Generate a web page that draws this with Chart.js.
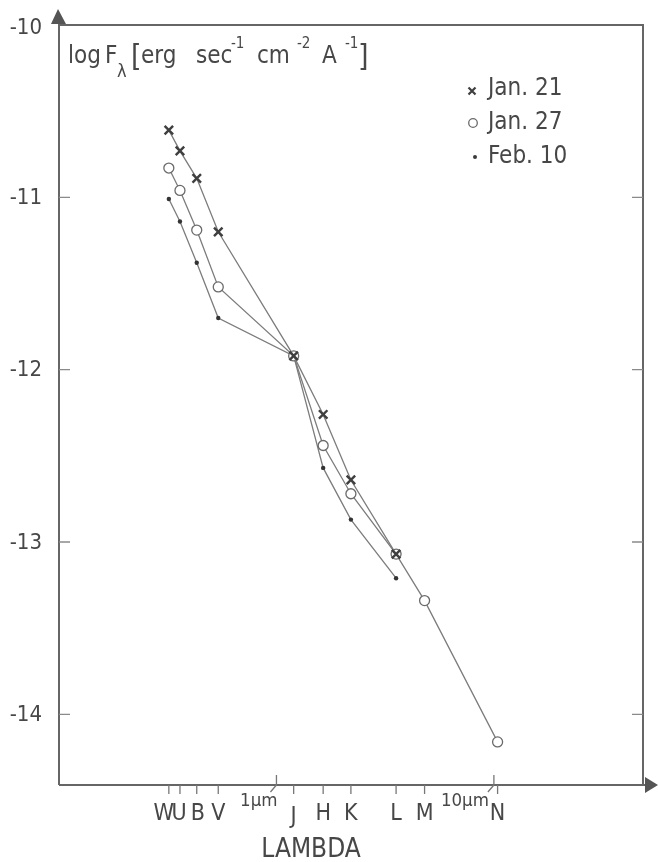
<!DOCTYPE html>
<html>
<head>
<meta charset="utf-8">
<script src="https://cdn.jsdelivr.net/npm/chart.js@4/dist/chart.umd.min.js"></script>
<style>
  html, body { margin: 0; padding: 0; background: #ffffff; }
  #wrap { width: 658px; height: 862px; }
</style>
</head>
<body>
<div id="wrap"><canvas id="c" width="658" height="862"></canvas></div>
<script>
// ---- data ----
const bands    = ['W', 'U', 'B', 'V', 'J', 'H', 'K', 'L', 'M', 'N'];
const lambdaUm = [0.32, 0.36, 0.43, 0.54, 1.2, 1.64, 2.2, 3.55, 4.8, 10.4];
const jan21 = [-10.61, -10.73, -10.89, -11.20, -11.92, -12.26, -12.64, -13.07, null, null];
const jan27 = [-10.83, -10.96, -11.19, -11.52, -11.92, -12.44, -12.72, -13.07, -13.34, -14.16];
const feb10 = [-11.01, -11.14, -11.38, -11.70, -11.92, -12.57, -12.87, -13.21, null, null];
const yTicks = [-10, -11, -12, -13, -14];
const yTickLabels = ['-10', '-11', '-12', '-13', '-14'];
const micronTicks = [1, 10];
const micronLabels = ['1\u03bcm', '10\u03bcm'];
const seriesNames = ['Jan. 21', 'Jan. 27', 'Feb. 10'];

const FONT = "'DejaVu Sans Condensed', 'DejaVu Sans', sans-serif";
const TEXT = '#474747';
const LINE = '#7c7c7c';
const AXIS = '#666666';

function pts(vals) {
  const out = [];
  vals.forEach((v, i) => { if (v !== null) out.push({ x: lambdaUm[i], y: v }); });
  return out;
}

function drawCross(ctx, x, y, r, w) {
  ctx.save();
  ctx.strokeStyle = '#3f3f3f'; ctx.lineWidth = w;
  ctx.beginPath();
  ctx.moveTo(x - r, y - r); ctx.lineTo(x + r, y + r);
  ctx.moveTo(x - r, y + r); ctx.lineTo(x + r, y - r);
  ctx.stroke();
  ctx.restore();
}

const decor = {
  id: 'decor',
  beforeDatasetsDraw(chart) {
    const ctx = chart.ctx, ca = chart.chartArea;
    const xs = chart.scales.x, ys = chart.scales.y;
    ctx.save();
    ctx.strokeStyle = AXIS; ctx.lineWidth = 2; ctx.lineCap = 'butt';
    // frame
    ctx.beginPath();
    ctx.moveTo(ca.left, ca.top); ctx.lineTo(ca.right, ca.top);
    ctx.lineTo(ca.right, ca.bottom);
    ctx.stroke();
    // axes
    ctx.beginPath();
    ctx.moveTo(ca.left, ca.bottom); ctx.lineTo(ca.left, ca.top - 2);
    ctx.moveTo(ca.left, ca.bottom); ctx.lineTo(ca.right + 4, ca.bottom);
    ctx.stroke();
    // arrows
    ctx.fillStyle = '#555555';
    ctx.beginPath();
    ctx.moveTo(ca.left - 1, 9); ctx.lineTo(ca.left - 8, 24); ctx.lineTo(ca.left + 7, 24); ctx.closePath();
    ctx.fill();
    ctx.beginPath();
    ctx.moveTo(658, ca.bottom); ctx.lineTo(645, ca.bottom - 8); ctx.lineTo(645, ca.bottom + 8); ctx.closePath();
    ctx.fill();
    // y ticks (inner, both sides)
    ctx.lineWidth = 1.3; ctx.strokeStyle = '#8a8a8a';
    yTicks.forEach(v => {
      const py = ys.getPixelForValue(v);
      if (Math.abs(py - ca.top) < 2) return;
      ctx.beginPath();
      ctx.moveTo(ca.left, py); ctx.lineTo(ca.left + 11, py);
      ctx.moveTo(ca.right - 11, py); ctx.lineTo(ca.right, py);
      ctx.stroke();
    });
    // x band ticks (down)
    ctx.strokeStyle = '#777777';
    lambdaUm.forEach(l => {
      const px = xs.getPixelForValue(l);
      ctx.beginPath(); ctx.moveTo(px, ca.bottom); ctx.lineTo(px, ca.bottom + 9); ctx.stroke();
    });
    // micron ticks (up) with leader
    micronTicks.forEach(l => {
      const px = xs.getPixelForValue(l);
      ctx.beginPath();
      ctx.moveTo(px, ca.bottom); ctx.lineTo(px, ca.bottom - 10);
      ctx.moveTo(px - 6, ca.bottom + 7); ctx.lineTo(px, ca.bottom);
      ctx.stroke();
    });
    ctx.restore();
  },
  afterDraw(chart) {
    const ctx = chart.ctx, ca = chart.chartArea;
    const xs = chart.scales.x, ys = chart.scales.y;
    ctx.save();
    ctx.fillStyle = TEXT;
    // y tick labels
    ctx.font = '22px ' + FONT; ctx.textAlign = 'right'; ctx.textBaseline = 'middle';
    yTicks.forEach((v, i) => {
      const py = ys.getPixelForValue(v);
      ctx.fillText(yTickLabels[i], 42, py + (i === 0 ? 3 : 1));
    });
    // x band labels
    ctx.font = '23px ' + FONT; ctx.textAlign = 'center'; ctx.textBaseline = 'alphabetic';
    bands.forEach((b, i) => {
      const px = xs.getPixelForValue(lambdaUm[i]);
      const dx = b === 'W' ? -5 : (b === 'U' ? -1 : (b === 'B' ? 1 : 0));
      ctx.fillText(b, px + dx, ca.bottom + 35 + (b === 'J' ? 3 : 0));
    });
    // micron labels
    ctx.font = '18.5px ' + FONT; ctx.textAlign = 'right';
    micronTicks.forEach((l, i) => {
      const px = xs.getPixelForValue(l);
      ctx.fillText(micronLabels[i], px + (i === 0 ? 1 : -5), ca.bottom + 21);
    });
    // axis title
    ctx.font = '26px ' + FONT; ctx.textAlign = 'center';
    ctx.fillText('LAMBDA', 311, 857);

    // y title with sub/superscripts (placed as in the reference)
    ctx.textAlign = 'left';
    const base = 63;
    function seg(t, x, size, dy) {
      ctx.font = size + 'px ' + FONT;
      ctx.fillText(t, x, base + dy);
    }
    seg('log', 68, 24, 0);
    seg('F', 105, 24, 0);
    seg('\u03bb', 117, 18, 14);
    seg('[', 131, 30, 3);
    seg('erg', 141, 24, 0);
    seg('sec', 196, 24, 0);
    seg('-1', 231, 15, -15);
    seg('cm', 257, 24, 0);
    seg('-2', 297, 15, -15);
    seg('A', 322, 24, 0);
    seg('-1', 345, 15, -15);
    seg(']', 358, 30, 3);

    // legend
    const rows = [95, 129, 163];
    ctx.font = '24px ' + FONT; ctx.textBaseline = 'alphabetic';
    seriesNames.forEach((n, i) => ctx.fillText(n, 488, rows[i]));
    drawCross(ctx, 472, rows[0] - 4, 3.5, 2.2);
    ctx.beginPath(); ctx.arc(473, rows[1] - 6, 4.3, 0, Math.PI * 2);
    ctx.strokeStyle = '#6a6a6a'; ctx.lineWidth = 1.3; ctx.stroke();
    ctx.beginPath(); ctx.arc(475, rows[2] - 6, 2, 0, Math.PI * 2);
    ctx.fillStyle = '#3a3a3a'; ctx.fill();
    ctx.restore();
  }
};

const common = { showLine: true, borderColor: LINE, borderWidth: 1.3, tension: 0, fill: false };

new Chart(document.getElementById('c'), {
  type: 'scatter',
  data: {
    datasets: [
      Object.assign({}, common, {
        label: seriesNames[0], data: pts(jan21),
        pointStyle: 'crossRot', pointRadius: 6, pointBorderWidth: 2.4,
        pointBorderColor: '#3f3f3f', pointBackgroundColor: '#3f3f3f'
      }),
      Object.assign({}, common, {
        label: seriesNames[1], data: pts(jan27),
        pointStyle: 'circle', pointRadius: 5, pointBorderWidth: 1.3,
        pointBorderColor: '#6a6a6a', pointBackgroundColor: '#ffffff'
      }),
      Object.assign({}, common, {
        label: seriesNames[2], data: pts(feb10),
        pointStyle: 'circle', pointRadius: 2.2, pointBorderWidth: 0,
        pointBorderColor: '#333333', pointBackgroundColor: '#333333'
      })
    ]
  },
  options: {
    responsive: false,
    animation: false,
    devicePixelRatio: 1,
    layout: { padding: { left: 59, right: 15, top: 25, bottom: 77 } },
    plugins: { legend: { display: false }, tooltip: { enabled: false } },
    scales: {
      x: { type: 'logarithmic', min: 0.1, max: 48.5, display: false },
      y: { type: 'linear', min: -14.41, max: -10, display: false }
    }
  },
  plugins: [decor]
});
</script>
</body>
</html>
